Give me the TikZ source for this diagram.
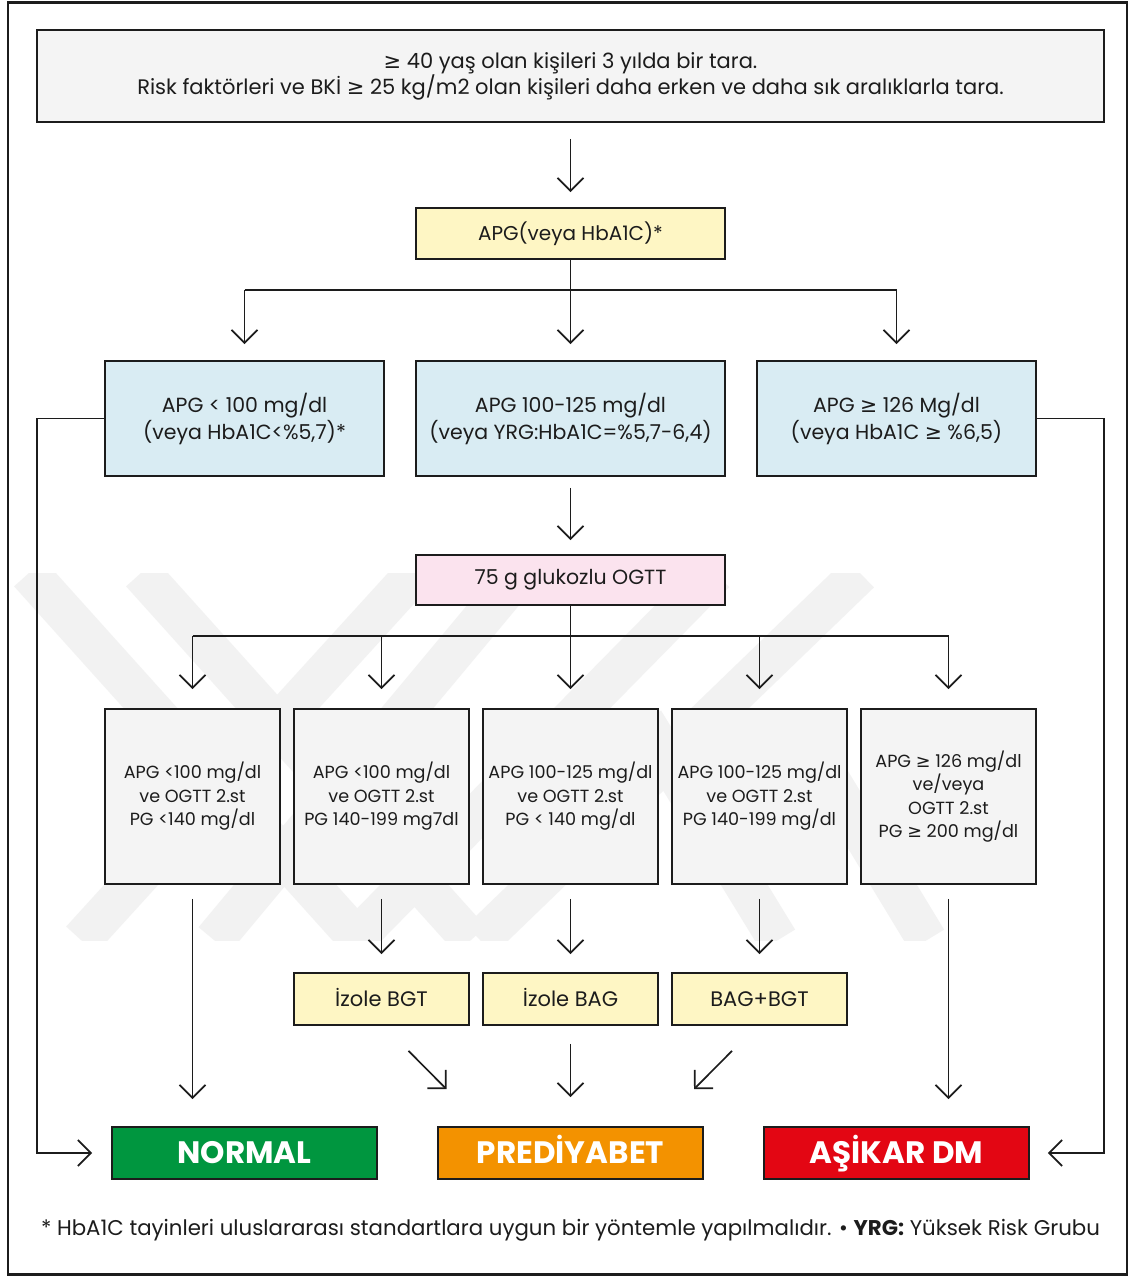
\documentclass[tikz,border=0pt]{standalone}
\usepackage{fontspec}
\setmainfont{Poppins}
\newfontfamily\symf{DejaVu Sans}
\newcommand{\GE}{{\symf ≥}}
\usetikzlibrary{arrows.meta,calc}
\definecolor{linecol}{HTML}{1C1C1C}
\definecolor{txtcol}{HTML}{1C1C1C}
\definecolor{grayfill}{HTML}{F4F4F4}
\definecolor{yelfill}{HTML}{FEF6C4}
\definecolor{bluefill}{HTML}{D9ECF3}
\definecolor{pinkfill}{HTML}{FBE3EE}
\definecolor{greenfill}{HTML}{00963F}
\definecolor{orangefill}{HTML}{F39200}
\definecolor{redfill}{HTML}{E30613}
\definecolor{wmcol}{HTML}{F2F2F2}
\tikzset{
  bx/.style={draw=linecol, line width=1.8pt, inner sep=0pt, align=center, text=txtcol},
  conn/.style={draw=linecol, line width=1.7pt},
  arr/.style={conn, -{Straight Barb[length=13pt,width=26pt,line width=1.7pt]}},
  wmband/.style={wmcol, line width=40pt},
}
\begin{document}
\begin{tikzpicture}[x=1pt,y=-1pt]
\useasboundingbox (0,0) rectangle (1133,1277);
\fill[white] (0,0) rectangle (1133,1277);
% watermark
\begin{scope}
\clip (0,573) rectangle (1133,940);
\draw[wmband] (29,573) -- (359,940);
\draw[wmband] (141,573) -- (471,940);
\draw[wmband] (715,573) -- (354,940);
\draw[wmband] (860,573) -- (480,940);
\draw[wmband] (415,573) -- (81,940);
\draw[wmband] (520,573) -- (214,940);
\draw[wmband] (644,721) -- (778,940);
\draw[wmband] (793,719) -- (927,940);
\end{scope}
% outer frame
\draw[line width=2.5pt, linecol] (8,2.5) rectangle (1127,1274.5);

% nodes
\node[bx, fill=grayfill, minimum width=1067pt, minimum height=92pt,
  font=\fontsize{21}{26}\selectfont] (top) at (570.5,76)
  {\GE\ 40 yaş olan kişileri 3 yılda bir tara.\\Risk faktörleri ve BKİ \GE\ 25 kg/m2 olan kişileri daha erken ve daha sık aralıklarla tara.};
\node[bx, fill=yelfill, minimum width=309pt, minimum height=51pt,
  font=\fontsize{20}{26}\selectfont] (apg) at (570.5,233.5) {APG(veya HbA1C)*};

\tikzset{bbox/.style={bx, fill=bluefill, minimum height=115pt,
  font=\fontsize{20.5}{27}\selectfont}}
\node[bbox, minimum width=279pt] (b1) at (244.5,418.5) {APG < 100 mg/dl\\(veya HbA1C<\%5,7)*};
\node[bbox, minimum width=309pt] (b2) at (570.5,418.5) {APG 100-125 mg/dl\\(veya YRG:HbA1C=\%5,7-6,4)};
\node[bbox, minimum width=279pt] (b3) at (896.5,418.5) {APG \GE\ 126 Mg/dl\\(veya HbA1C \GE\ \%6,5)};

\node[bx, fill=pinkfill, minimum width=309pt, minimum height=50pt,
  font=\fontsize{20.5}{26}\selectfont] (ogtt) at (570.5,580) {75 g glukozlu OGTT};

\tikzset{gbox/.style={bx, fill=grayfill, minimum width=175pt, minimum height=175pt,
  font=\fontsize{17.6}{23.5}\selectfont}}
\node[gbox] (g1) at (192.5,796.5) {APG <100 mg/dl\\ve OGTT 2.st\\PG <140 mg/dl};
\node[gbox] (g2) at (381.5,796.5) {APG <100 mg/dl\\ve OGTT 2.st\\PG 140-199 mg7dl};
\node[gbox] (g3) at (570.5,796.5) {APG 100-125 mg/dl\\ve OGTT 2.st\\PG < 140 mg/dl};
\node[gbox] (g4) at (759.5,796.5) {APG 100-125 mg/dl\\ve OGTT 2.st\\PG 140-199 mg/dl};
\node[gbox] (g5) at (948.5,796.5) {APG \GE\ 126 mg/dl\\ve/veya\\OGTT 2.st\\PG \GE\ 200 mg/dl};

\tikzset{ybox/.style={bx, fill=yelfill, minimum width=175pt, minimum height=52pt,
  text height=14.5pt, text depth=0pt, font=\fontsize{21}{26}\selectfont}}
\node[ybox] (y2) at (381.5,999) {İzole BGT};
\node[ybox] (y3) at (570.5,999) {İzole BAG};
\node[ybox] (y4) at (759.5,999) {BAG+BGT};

\tikzset{rbox/.style={bx, minimum width=265pt, minimum height=52pt, text=white,
  text height=21.5pt, text depth=0pt, font=\fontsize{31}{32}\selectfont\bfseries}}
\node[rbox, fill=greenfill] (normal) at (244.5,1153) {NORMAL};
\node[rbox, fill=orangefill] (pred) at (570.5,1153) {PREDİYABET};
\node[rbox, fill=redfill] (asikar) at (896.5,1153) {AŞİKAR DM};

\node[text=txtcol, inner sep=0pt, font=\fontsize{21.3}{24}\selectfont] (foot) at (570.5,1230)
  {* HbA1C tayinleri uluslararası standartlara uygun bir yöntemle yapılmalıdır. • \textbf{YRG:} Yüksek Risk Grubu};

% connectors
\draw[arr, shorten <=16pt, shorten >=15pt] (top) -- (apg);
\coordinate (t1) at (570.5,290);
\draw[conn] (apg.south) -- (t1);
\draw[conn] (b1.north |- t1) -- (b3.north |- t1);
\draw[arr, shorten >=16pt] (b1.north |- t1) -- (b1.north);
\draw[arr, shorten >=16pt] (t1) -- (b2.north);
\draw[arr, shorten >=16pt] (b3.north |- t1) -- (b3.north);

\draw[arr, shorten <=11pt, shorten >=14pt] (b2.south) -- (ogtt.north);
\coordinate (t2) at (570.5,636);
\draw[conn] (ogtt.south) -- (t2);
\draw[conn] (g1.north |- t2) -- (g5.north |- t2);
\foreach \g in {g1,g2,g4,g5}{
  \draw[arr, shorten >=19pt] (\g.north |- t2) -- (\g.north);
}
\draw[arr, shorten >=19pt] (t2) -- (g3.north);

\draw[arr, shorten <=14pt, shorten >=27pt] (g1.south) -- (g1.south |- normal.north);
\draw[arr, shorten <=14pt, shorten >=27pt] (g5.south) -- (g5.south |- asikar.north);
\draw[arr, shorten <=14pt, shorten >=18pt] (g2.south) -- (y2.north);
\draw[arr, shorten <=14pt, shorten >=18pt] (g3.south) -- (y3.north);
\draw[arr, shorten <=14pt, shorten >=18pt] (g4.south) -- (y4.north);

\draw[arr] ([shift={(27,25)}]y2.south) -- ([shift={(-124,-37)}]pred.north);
\draw[arr, shorten <=18pt, shorten >=29pt] (y3.south) -- (pred.north);
\draw[arr] ([shift={(-27.5,25)}]y4.south) -- ([shift={(123.5,-37)}]pred.north);

\draw[arr, shorten >=19pt] (b1.west) -- ++(-67,0) |- (normal.west);
\draw[arr, shorten >=18pt] (b3.east) -- ++(67,0) |- (asikar.east);
\end{tikzpicture}
\end{document}
